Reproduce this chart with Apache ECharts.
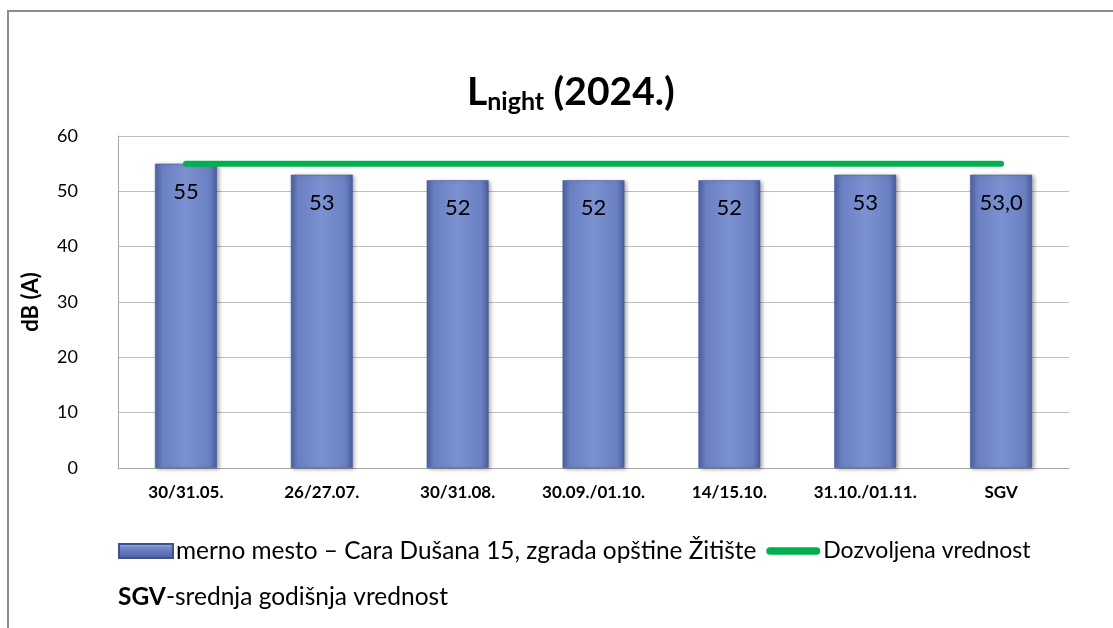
<!DOCTYPE html>
<html><head><meta charset="utf-8">
<script src="https://cdn.jsdelivr.net/npm/echarts@6/dist/echarts.min.js"></script>
<style>html,body{margin:0;padding:0;background:#fff}#c{width:1113px;height:628px}</style>
</head><body><div id="c"></div>
<script>
const categories = ['30/31.05.', '26/27.07.', '30/31.08.', '30.09./01.10.', '14/15.10.', '31.10./01.11.', 'SGV'];
const measured = [55, 53, 52, 52, 52, 53, 53.0];
const limit = [55, 55, 55, 55, 55, 55, 55];
const yTicks = [0, 10, 20, 30, 40, 50, 60];
const seriesNames = ['merno mesto – Cara Dušana 15, zgrada opštine Žitište', 'Dozvoljena vrednost'];

const FONT = 'Lato';
const chart = echarts.init(document.getElementById('c'));
const barColor = new echarts.graphic.LinearGradient(0, 0, 1, 0, [
  {offset: 0, color: '#4d62a3'},
  {offset: 0.12, color: '#6a80c2'},
  {offset: 0.5, color: '#7b91d1'},
  {offset: 0.88, color: '#6a80c2'},
  {offset: 1, color: '#4a5e9e'}
]);
const legendBar = new echarts.graphic.LinearGradient(0, 0, 0, 1, [
  {offset: 0, color: '#a9b8e6'},
  {offset: 0.3, color: '#7087c8'},
  {offset: 1, color: '#4a5e9e'}
]);
chart.setOption({
  animation: false,
  textStyle: {fontFamily: FONT},
  title: {
    text: '{l|L}{s|night}{l| (2024.)}',
    left: 462, top: 65,
    textStyle: {rich: {
      l: {fontSize: 39, fontWeight: 'bold', color: '#000', fontFamily: FONT},
      s: {fontSize: 25, fontWeight: 'bold', color: '#000', fontFamily: FONT, padding: [19, 0, 0, 0]}
    }}
  },
  grid: {left: 118, right: 44, top: 136, bottom: 160, containLabel: false},
  legend: {
    left: 113, top: 534, itemGap: 10, symbolKeepAspect: true,
    textStyle: {fontSize: 24, color: '#000', fontFamily: FONT, padding: [0, 0, 0, -2]},
    data: [
      {name: seriesNames[0], icon: 'rect', itemStyle: {color: legendBar},
       textStyle: {fontSize: 24.4, color: '#000', fontFamily: FONT}},
      {name: seriesNames[1], icon: 'path://M4,0 L54,0 A4,4 0 0 1 54,8 L4,8 A4,4 0 0 1 4,0 Z', itemStyle: {color: '#00b050'},
       textStyle: {fontSize: 23, color: '#000', fontFamily: FONT}}
    ],
    itemWidth: 54, itemHeight: 14
  },
  xAxis: {
    type: 'category', data: categories,
    axisLine: {lineStyle: {color: '#a6a6a6'}},
    axisTick: {show: false},
    axisLabel: {interval: 0, fontSize: 17, fontWeight: 'bold', color: '#000', margin: 16}
  },
  yAxis: {
    type: 'value', min: 0, max: 60, interval: 10,
    name: 'dB (A)', nameLocation: 'middle', nameGap: 76, nameRotate: 90,
    nameTextStyle: {fontSize: 22, fontWeight: 'bold', color: '#000'},
    axisLine: {show: true, lineStyle: {color: '#a6a6a6'}},
    axisTick: {show: false},
    axisLabel: {fontSize: 18, color: '#000', margin: 40, align: 'right',
      formatter: v => yTicks.includes(v) ? String(v) : ''},
    splitLine: {lineStyle: {color: '#bfbfbf'}}
  },
  series: [
    {
      name: seriesNames[0], type: 'bar', data: measured, barWidth: '45.5%',
      itemStyle: {color: barColor, borderColor: '#3f5290', borderWidth: 0.5,
        shadowColor: 'rgba(0,0,0,0.35)', shadowBlur: 4, shadowOffsetX: 2, shadowOffsetY: 1},
      label: {show: true, position: 'insideTop', distance: 17, fontSize: 22, color: '#000',
        formatter: p => p.dataIndex === measured.length - 1 ? p.value.toFixed(1).replace('.', ',') : String(p.value)},
      z: 2
    },
    {
      name: seriesNames[1], type: 'line', data: limit, symbol: 'none',
      lineStyle: {color: '#00b050', width: 6, cap: 'round'},
      itemStyle: {color: '#00b050'},
      z: 3
    }
  ],
  graphic: [
    {type: 'polyline', shape: {points: [[8, 640], [8, 11], [1120, 11]]},
     style: {stroke: '#8c8c8c', lineWidth: 2, fill: null}, silent: true},
    {type: 'text', left: 118, top: 585,
     style: {text: '{b|SGV}{n|-srednja godišnja vrednost}',
       rich: {b: {fontWeight: 'bold', fontSize: 24.5, fontFamily: FONT, fill: '#000'},
              n: {fontSize: 24.5, fontFamily: FONT, fill: '#000'}}}}
  ]
});
</script></body></html>
